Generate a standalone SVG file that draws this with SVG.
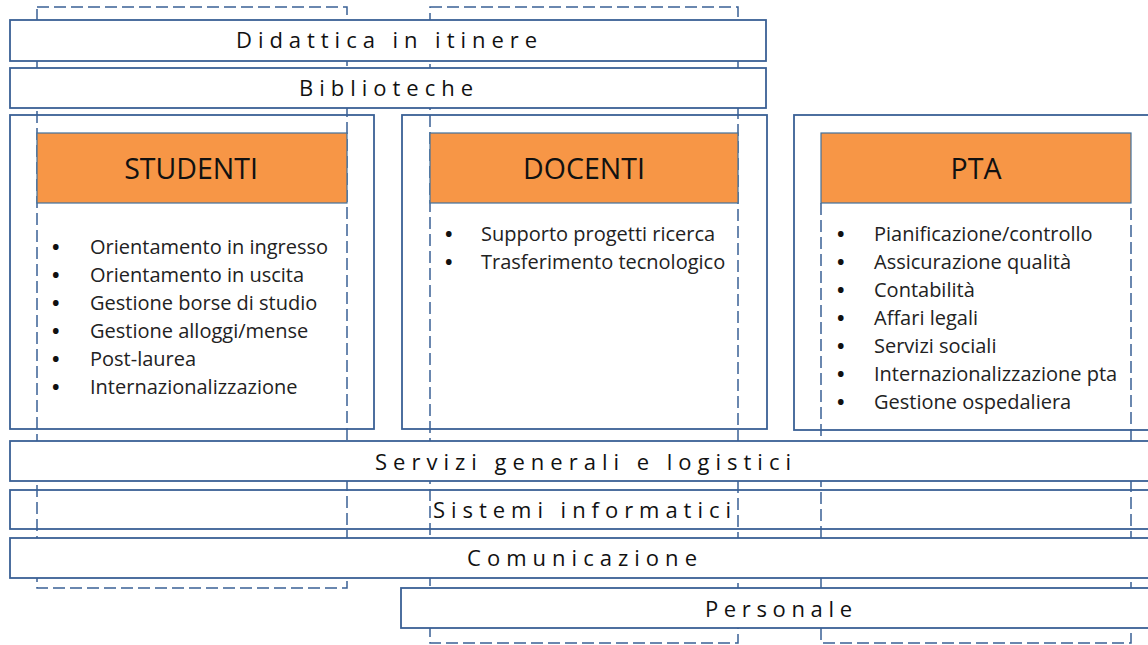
<svg xmlns="http://www.w3.org/2000/svg" width="1148" height="645" viewBox="0 0 1148 645">
<style>
.box{fill:none;stroke:#3A6095;stroke-width:1.8}
.band{fill:#FFFFFF;stroke:#3A6095;stroke-width:1.8}
.dash{fill:none;stroke:#3A6095;stroke-width:1.5;stroke-dasharray:12 5}
.head{fill:#F79646;stroke:#41719C;stroke-width:1.2}
.lbl{font-family:"Open Sans","Noto Sans",sans-serif;font-size:22px;fill:#111111}
.ht{font-family:"Open Sans","Noto Sans",sans-serif;font-size:28.5px;fill:#111111;text-anchor:middle}
.li{font-family:"Open Sans","Noto Sans",sans-serif;font-size:20px;fill:#222222}
.b{font-weight:bold;fill:#111111}
</style>
<rect width="1148" height="645" fill="#FFFFFF"/>

<g id="containers">
  <rect class="box" x="10" y="115" width="364" height="314"/>
  <rect class="box" x="402" y="115" width="365" height="314"/>
  <rect class="box" x="794" y="115" width="400" height="315"/>
</g>

<g id="columns">
  <rect class="dash" x="37" y="7" width="310" height="581"/>
  <rect class="dash" x="430" y="7" width="308" height="636"/>
  <path class="dash" d="M821 203 V643 H1131 V203"/>
</g>

<g id="didattica">
  <rect class="band" x="10" y="20" width="756" height="41"/>
  <text class="lbl" x="236" y="48" textLength="301" lengthAdjust="spacing">Didattica in itinere</text>
</g>
<g id="biblioteche">
  <rect class="band" x="10" y="68" width="756" height="40"/>
  <text class="lbl" x="299" y="96" textLength="174" lengthAdjust="spacing">Biblioteche</text>
</g>

<g id="servizi">
  <rect class="band" x="10" y="441" width="1200" height="40"/>
  <text class="lbl" x="375" y="470" textLength="416" lengthAdjust="spacing">Servizi generali e logistici</text>
</g>
<g id="sistemi">
  <rect class="box" x="10" y="490" width="1200" height="39"/>
  <text class="lbl" x="433" y="518" textLength="298" lengthAdjust="spacing">Sistemi informatici</text>
</g>
<g id="comunicazione">
  <rect class="band" x="10" y="538" width="1200" height="40"/>
  <text class="lbl" x="467" y="566" textLength="230" lengthAdjust="spacing">Comunicazione</text>
</g>
<g id="personale">
  <rect class="band" x="401" y="588" width="800" height="40"/>
  <text class="lbl" x="705" y="617" textLength="147" lengthAdjust="spacing">Personale</text>
</g>

<g id="studenti">
  <rect class="head" x="37" y="133" width="310" height="70"/>
  <text class="ht" x="191" y="179">STUDENTI</text>
  <text class="li" y="254"><tspan class="b" x="52">•</tspan><tspan x="90">Orientamento in ingresso</tspan></text>
  <text class="li" y="282"><tspan class="b" x="52">•</tspan><tspan x="90">Orientamento in uscita</tspan></text>
  <text class="li" y="310"><tspan class="b" x="52">•</tspan><tspan x="90">Gestione borse di studio</tspan></text>
  <text class="li" y="338"><tspan class="b" x="52">•</tspan><tspan x="90">Gestione alloggi/mense</tspan></text>
  <text class="li" y="366"><tspan class="b" x="52">•</tspan><tspan x="90">Post-laurea</tspan></text>
  <text class="li" y="394"><tspan class="b" x="52">•</tspan><tspan x="90">Internazionalizzazione</tspan></text>
</g>

<g id="docenti">
  <rect class="head" x="430" y="133" width="308" height="70"/>
  <text class="ht" x="584" y="179">DOCENTI</text>
  <text class="li" y="241"><tspan class="b" x="445">•</tspan><tspan x="481">Supporto progetti ricerca</tspan></text>
  <text class="li" y="269"><tspan class="b" x="445">•</tspan><tspan x="481">Trasferimento tecnologico</tspan></text>
</g>

<g id="pta">
  <rect class="head" x="821" y="133" width="310" height="70"/>
  <text class="ht" x="976" y="179">PTA</text>
  <text class="li" y="241"><tspan class="b" x="837">•</tspan><tspan x="874">Pianificazione/controllo</tspan></text>
  <text class="li" y="269"><tspan class="b" x="837">•</tspan><tspan x="874">Assicurazione qualità</tspan></text>
  <text class="li" y="297"><tspan class="b" x="837">•</tspan><tspan x="874">Contabilità</tspan></text>
  <text class="li" y="325"><tspan class="b" x="837">•</tspan><tspan x="874">Affari legali</tspan></text>
  <text class="li" y="353"><tspan class="b" x="837">•</tspan><tspan x="874">Servizi sociali</tspan></text>
  <text class="li" y="381"><tspan class="b" x="837">•</tspan><tspan x="874">Internazionalizzazione pta</tspan></text>
  <text class="li" y="409"><tspan class="b" x="837">•</tspan><tspan x="874">Gestione ospedaliera</tspan></text>
</g>

<g id="connectors"></g>
</svg>
